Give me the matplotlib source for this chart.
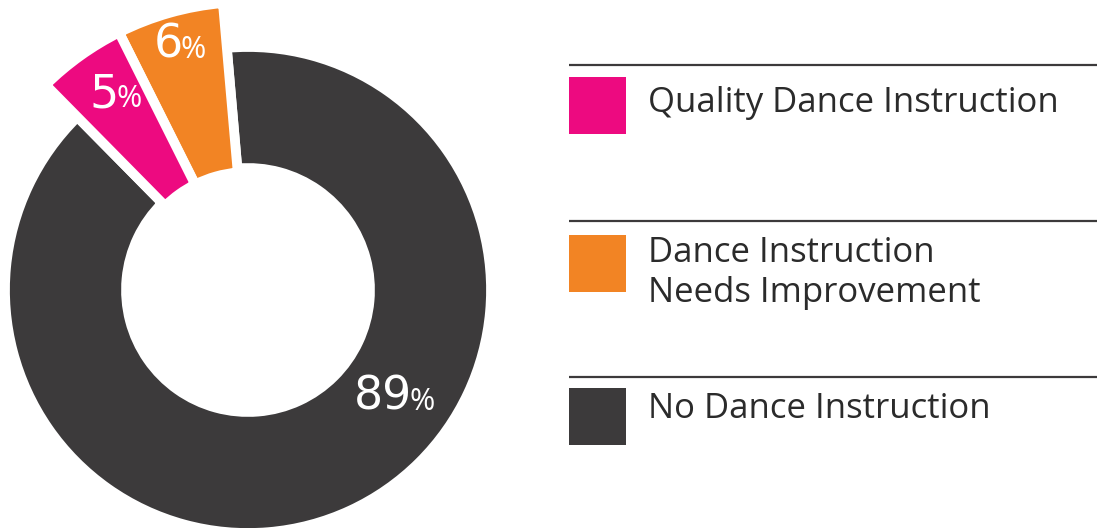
import numpy as np
import matplotlib.pyplot as plt

plt.rcParams['font.family'] = ['Open Sans', 'DejaVu Sans']

# share of schools by dance instruction status
categories = ["Quality Dance Instruction", "Dance Instruction\nNeeds Improvement", "No Dance Instruction"]
shares = [5, 6, 89]
colors = ["#ED0A80", "#F28424", "#3C3A3B"]

# pie is drawn counterclockwise: orange, pink, then the dark ring
ring_order = [1, 0, 2]

W, H = 1097, 528
fig = plt.figure(figsize=(W / 100, H / 100), dpi=100)
ax = fig.add_axes([0, 0, 1, 1])

cx, cy = 248, H - 290
vals = [shares[i] for i in ring_order]
cols = [colors[i] for i in ring_order]
start = 95
edge = dict(edgecolor='white', linewidth=7)

# base ring carries the large slice
base, _ = ax.pie(vals, colors=cols, startangle=start, counterclock=True,
                 center=(cx, cy), radius=243, frame=True,
                 wedgeprops=dict(width=121, **edge))
# the two small slices stick out of the ring
top, _ = ax.pie(vals, colors=cols, startangle=start, counterclock=True,
                center=(cx, cy), radius=288, frame=True,
                wedgeprops=dict(width=170, **edge))
for w in base[:2]:
    w.set_visible(False)
top[2].set_visible(False)
ax.set_xlim(0, W)
ax.set_ylim(0, H)
ax.axis('off')

# percentage labels, anchored (radius, angle) at the digits' baseline-right corner
label_pos = [(224, 125.4), (241, 105.7), (203, -36.2)]
for i in range(3):
    r, ang = label_pos[i]
    x = cx + r * np.cos(np.radians(ang))
    y = cy + r * np.sin(np.radians(ang))
    ax.text(x, y, str(shares[i]), color='white', fontsize=33,
            family='DejaVu Sans', ha='right', va='baseline')
    ax.text(x - 2, y, '%', color='white', fontsize=22,
            ha='left', va='baseline')

# legend with rules above each entry
rule_y = [65, 221, 377]
swatch_y = [77, 235, 388]
baseline_y = [112, 262, 418]
for i, label in enumerate(categories):
    y0 = H - rule_y[i]
    ax.plot([569, W], [y0, y0], color='#3C3A3B', lw=1.6, solid_capstyle='butt')
    ax.add_patch(plt.Rectangle((569, H - swatch_y[i] - 57), 57, 57,
                               color=colors[i], lw=0))
    for j, line in enumerate(label.split('\n')):
        ax.text(648, H - baseline_y[i] - 40 * j, line, color='#2B2B2B',
                fontsize=25, ha='left', va='baseline')

fig.savefig('out.png', dpi=100)
